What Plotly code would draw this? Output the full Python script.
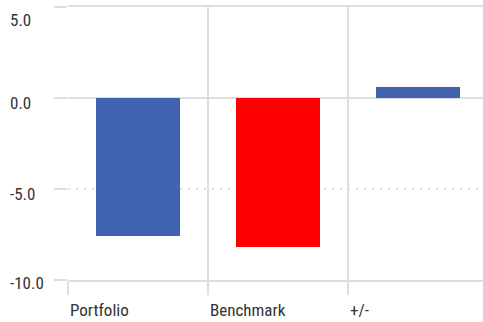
import plotly.graph_objects as go

categories = ["Portfolio", "Benchmark", "+/-"]
values = [-7.57, -8.17, 0.60]
bar_colors = ["#4163B0", "#FF0000", "#4163B0"]
y_ticks = [-10, -5, 0, 5]

# label pixel offsets (style only)
y_label_shift = {-10: -3, -5: -5, 0: -5, 5: -13}

x_pos = [i + 0.5 for i in range(len(categories))]

fig = go.Figure(go.Bar(
    x=x_pos, y=values, width=0.6,
    marker=dict(color=bar_colors, line=dict(width=0)),
    hoverinfo="skip",
))

grid = "#dedede"
text_color = "#333333"
W, H = 483, 322
ml = 8
plot_left = 68
fig.update_layout(
    width=W, height=H,
    margin=dict(l=ml, r=0, t=7, b=42),
    plot_bgcolor="white", paper_bgcolor="white",
    font=dict(family="Roboto Condensed", size=17, color=text_color),
    showlegend=False,
    bargap=0,
)
fig.update_xaxes(
    domain=[(plot_left - ml) / (W - ml), 1],
    range=[0, 2.964],
    tickmode="array", tickvals=list(range(len(categories))), ticktext=categories,
    ticklabelposition="outside right",
    showgrid=True, gridcolor=grid, gridwidth=2,
    ticks="outside", ticklen=13, tickwidth=2, tickcolor=grid,
    ticklabelstandoff=14,
    showline=True, linecolor=grid, linewidth=2, mirror=True,
    zeroline=False, fixedrange=True, automargin=False,
)
fig.update_yaxes(
    range=[-10, 5],
    tickmode="array", tickvals=y_ticks,
    showticklabels=False,
    showgrid=True, gridcolor=grid, gridwidth=2, griddash="2px,6px",
    zeroline=True, zerolinecolor=grid, zerolinewidth=2,
    ticks="outside", ticklen=13, tickwidth=2, tickcolor=grid,
    showline=False, fixedrange=True, automargin=False,
)

for v in y_ticks:
    fig.add_annotation(
        xref="paper", x=0, xanchor="left",
        yref="y", y=v, yanchor="middle", yshift=y_label_shift[v],
        text=f"{v:.1f}", showarrow=False,
        font=dict(family="Roboto Condensed", size=17, color=text_color),
    )

fig.write_html("out.html", config={"displayModeBar": False})
